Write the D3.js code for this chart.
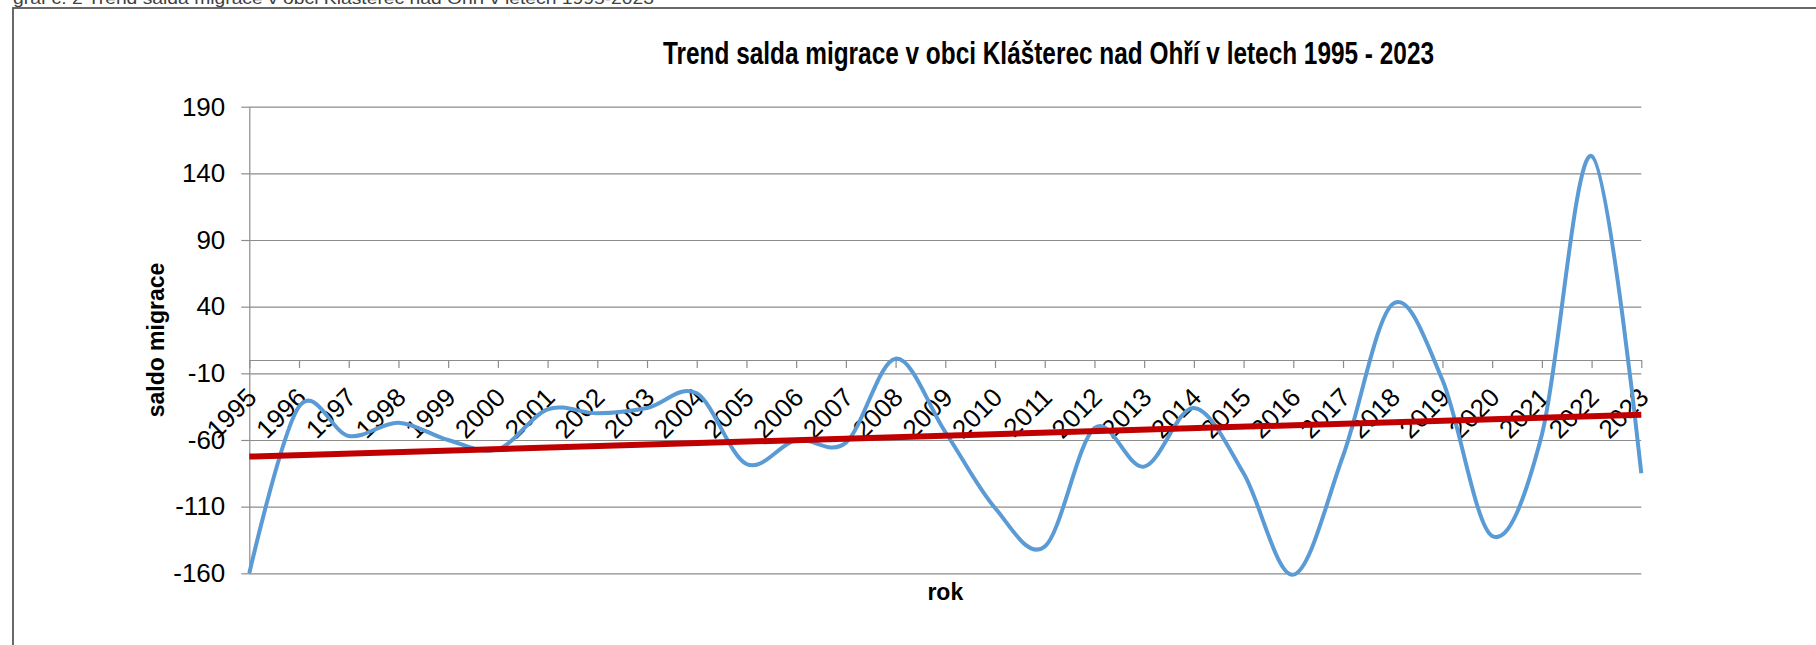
<!DOCTYPE html>
<html>
<head>
<meta charset="utf-8">
<script src="https://cdn.jsdelivr.net/npm/d3@7"></script>
<style>
  html, body { margin: 0; padding: 0; background: #fff; }
  svg { display: block; font-family: "Liberation Sans", Arial, sans-serif; }
</style>
</head>
<body>
<svg id="chart" width="1816" height="645"></svg>
<script>
const years = ['1995', '1996', '1997', '1998', '1999', '2000', '2001', '2002', '2003', '2004',
  '2005', '2006', '2007', '2008', '2009', '2010', '2011', '2012', '2013', '2014',
  '2015', '2016', '2017', '2018', '2019', '2020', '2021', '2022', '2023'];
const saldo = [-160, -35, -57, -47, -60, -67, -37, -40, -36, -25,
  -78, -60, -62, 1, -54, -111, -140, -51, -80, -36,
  -85, -161, -72, 42, -15, -132, -56, 153, -85];
const yTicks = [190, 140, 90, 40, -10, -60, -110, -160];
const caption = 'graf č. 2 Trend salda migrace v obci Klášterec nad Ohří v letech 1995-2023';
const title = 'Trend salda migrace v obci Klášterec nad Ohří v letech 1995 - 2023';
const yTitle = 'saldo migrace';
const xTitle = 'rok';

const plot = { left: 249.3, right: 1641.3, top: 106.7, bottom: 573.3 };
const plotW = plot.right - plot.left;

const svg = d3.select('#chart');

const x = d3.scalePoint().domain(years).range([plot.left, plot.right]);
const y = d3.scaleLinear().domain([-160, 190]).range([plot.bottom, plot.top]);

// caption above the chart box (cut off by the top edge, as in the source)
svg.append('text')
  .attr('x', 13)
  .attr('y', 4)
  .attr('font-size', 17)
  .attr('fill', '#404040')
  .attr('textLength', 641)
  .attr('lengthAdjust', 'spacingAndGlyphs')
  .text(caption);

// chart area border
svg.append('rect')
  .attr('x', 13)
  .attr('y', 8)
  .attr('width', 1900)
  .attr('height', 700)
  .attr('fill', 'none')
  .attr('stroke', '#595959')
  .attr('stroke-width', 1.8);

// title
svg.append('text')
  .attr('x', 663)
  .attr('y', 64)
  .attr('font-size', 31)
  .attr('font-weight', 'bold')
  .attr('textLength', 771)
  .attr('lengthAdjust', 'spacingAndGlyphs')
  .text(title);

// horizontal grid
svg.append('g')
  .attr('transform', `translate(${plot.left},0)`)
  .call(d3.axisLeft(y).tickValues(yTicks).tickSize(-plotW).tickFormat(''))
  .call(g => g.select('.domain').remove())
  .selectAll('line')
  .attr('stroke', '#8c8c8c')
  .attr('stroke-width', 1.2);

// y axis (plain hyphen for negatives)
svg.append('g')
  .attr('transform', `translate(${plot.left},0)`)
  .call(d3.axisLeft(y).tickValues(yTicks).tickSize(8).tickSizeOuter(0).tickPadding(16)
    .tickFormat(d => String(d)))
  .call(g => g.selectAll('line, .domain').attr('stroke', '#8c8c8c').attr('stroke-width', 1.2))
  .selectAll('text')
  .attr('font-size', 26)
  .attr('font-family', '"Liberation Sans", Arial, sans-serif')
  .attr('fill', '#000');

// x axis crossing at 0
svg.append('g')
  .attr('transform', `translate(0,${y(0)})`)
  .call(d3.axisBottom(x).tickSize(8).tickSizeOuter(0).tickFormat(''))
  .call(g => g.selectAll('line, .domain').attr('stroke', '#8c8c8c').attr('stroke-width', 1.2));

// rotated year labels
svg.append('g')
  .selectAll('text')
  .data(years)
  .enter()
  .append('text')
  .attr('transform', d => `translate(${x(d) + 9},399) rotate(-45)`)
  .attr('text-anchor', 'end')
  .attr('font-size', 26)
  .text(d => d);

// migration balance, smoothed
const line = d3.line()
  .x((d, i) => x(years[i]))
  .y(d => y(d))
  .curve(d3.curveCardinal.tension(0));

svg.append('path')
  .datum(saldo)
  .attr('d', line)
  .attr('fill', 'none')
  .attr('stroke', '#5B9BD5')
  .attr('stroke-width', 4);

// linear trend (least squares)
const idx = saldo.map((d, i) => i);
const xm = d3.mean(idx);
const ym = d3.mean(saldo);
const slope = d3.sum(idx, i => (i - xm) * (saldo[i] - ym)) / d3.sum(idx, i => (i - xm) ** 2);
const intercept = ym - slope * xm;
const last = saldo.length - 1;

svg.append('line')
  .attr('x1', x(years[0]))
  .attr('y1', y(intercept))
  .attr('x2', x(years[last]))
  .attr('y2', y(intercept + slope * last))
  .attr('stroke', '#C00000')
  .attr('stroke-width', 6);

// axis titles
svg.append('text')
  .attr('transform', `translate(164,340) rotate(-90)`)
  .attr('text-anchor', 'middle')
  .attr('font-size', 23)
  .attr('font-weight', 'bold')
  .text(yTitle);

svg.append('text')
  .attr('x', (plot.left + plot.right) / 2)
  .attr('y', 600)
  .attr('text-anchor', 'middle')
  .attr('font-size', 23)
  .attr('font-weight', 'bold')
  .text(xTitle);
</script>
</body>
</html>
